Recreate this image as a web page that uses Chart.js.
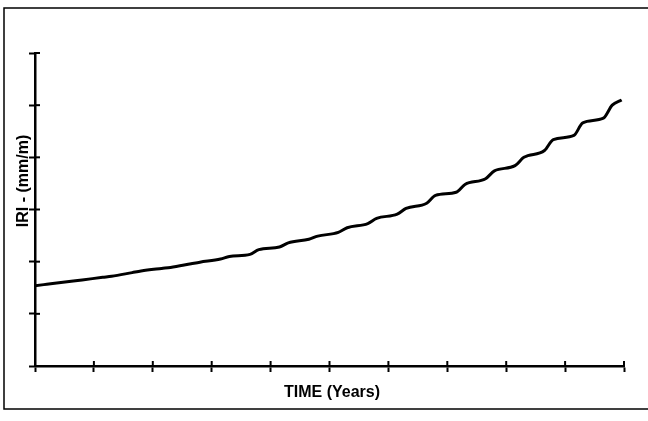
<!DOCTYPE html>
<html>
<head>
<meta charset="utf-8">
<script src="https://cdn.jsdelivr.net/npm/chart.js@4/dist/chart.umd.min.js"></script>
<style>
  html, body { margin: 0; padding: 0; background: #fff; }
  #wrap { width: 648px; height: 421px; }
</style>
</head>
<body>
<div id="wrap"><canvas id="iriChart" width="648" height="421"></canvas></div>
<script>
// time along the x axis (tick units) and IRI (tick units)
var timeYears = [0, 0.15, 0.3, 0.65, 0.8, 1.15, 1.3, 1.65, 1.8, 2.15, 2.3, 2.65, 2.8,
  3.15, 3.3, 3.65, 3.8, 4.15, 4.3, 4.65, 4.8, 5.15, 5.3, 5.65, 5.8, 6.15, 6.3,
  6.65, 6.8, 7.15, 7.3, 7.65, 7.8, 8.15, 8.3, 8.65, 8.8, 9.15, 9.3, 9.65, 9.8, 9.96];
var iriValues = [1.54, 1.56, 1.58, 1.63, 1.65, 1.70, 1.72, 1.79, 1.82, 1.87, 1.89, 1.96, 1.99,
  2.05, 2.10, 2.14, 2.23, 2.28, 2.36, 2.43, 2.49, 2.56, 2.65, 2.73, 2.83, 2.91, 3.02,
  3.12, 3.27, 3.33, 3.48, 3.59, 3.74, 3.84, 4.00, 4.13, 4.34, 4.42, 4.66, 4.75, 5.00, 5.10];
var xTicks = [0, 10, 1];   // min, max, step
var yTicks = [0, 6, 1];

var points = timeYears.map(function (t, i) { return { x: t, y: iriValues[i] }; });

// frame round the picture, inner half of the ticks, and the two titles
var decor = {
  id: 'decor',
  beforeDraw: function (chart) {
    var c = chart.ctx;
    c.save();
    c.fillStyle = '#fff';
    c.fillRect(0, 0, chart.width, chart.height);
    c.strokeStyle = '#000';
    c.lineWidth = 1.5;
    c.strokeRect(4, 8, 700, 401);
    c.restore();
  },
  afterDraw: function (chart) {
    var c = chart.ctx;
    var xs = chart.scales.x, ys = chart.scales.y;
    c.save();
    c.strokeStyle = '#000';
    c.lineWidth = 2;
    xs.ticks.forEach(function (tk, i) {
      var px = xs.getPixelForTick(i);
      c.beginPath(); c.moveTo(px, ys.bottom); c.lineTo(px, ys.bottom - 5); c.stroke();
    });
    ys.ticks.forEach(function (tk, i) {
      var py = ys.getPixelForTick(i);
      c.beginPath(); c.moveTo(xs.left, py); c.lineTo(xs.left + 5, py); c.stroke();
    });
    c.fillStyle = '#000';
    c.font = 'bold 16px "Liberation Sans", Arial, sans-serif';
    c.textAlign = 'center';
    c.textBaseline = 'middle';
    c.fillText('TIME (Years)', 332, 393);
    c.translate(24, 181);
    c.rotate(-Math.PI / 2);
    c.fillText('IRI - (mm/m)', 0, 0);
    c.restore();
  }
};

new Chart(document.getElementById('iriChart').getContext('2d'), {
  type: 'line',
  data: {
    datasets: [{
      data: points,
      borderColor: '#000',
      borderWidth: 3,
      pointRadius: 0,
      fill: false,
      cubicInterpolationMode: 'monotone'
    }]
  },
  options: {
    responsive: false,
    animation: false,
    layout: { padding: { left: 0, right: 24, top: 53, bottom: 0 } },
    plugins: { legend: { display: false }, tooltip: { enabled: false } },
    scales: {
      x: {
        type: 'linear',
        min: xTicks[0], max: xTicks[1],
        ticks: { stepSize: xTicks[2], display: false },
        grid: { drawOnChartArea: false, drawTicks: true, tickLength: 6, tickWidth: 2, tickColor: '#000' },
        border: { color: '#000', width: 2.5 },
        afterFit: function (s) { s.height = 55; }
      },
      y: {
        type: 'linear',
        min: yTicks[0], max: yTicks[1],
        ticks: { stepSize: yTicks[2], display: false },
        grid: { drawOnChartArea: false, drawTicks: true, tickLength: 6, tickWidth: 2, tickColor: '#000' },
        border: { color: '#000', width: 2.5 },
        afterFit: function (s) { s.width = 35; }
      }
    }
  },
  plugins: [decor]
});
</script>
</body>
</html>
